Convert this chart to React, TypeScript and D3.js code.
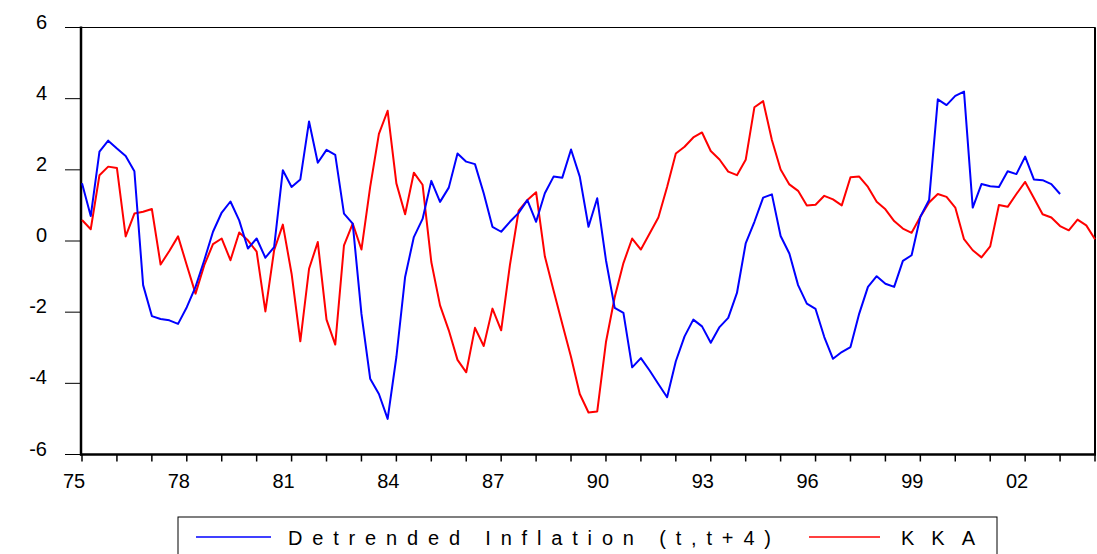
import React from "react";
import * as d3 from "d3";

const START_YEAR = 1975;
const yTicks = [-6, -4, -2, 0, 2, 4, 6];
const xLabels = ["75", "78", "81", "84", "87", "90", "93", "96", "99", "02"];
const seriesNames = ["Detrended Inflation (t,t+4)", "KKA"];

const kka = [
  0.59, 0.33, 1.85, 2.09, 2.05, 0.13, 0.77, 0.82, 0.90, -0.66,
  -0.28, 0.13, -0.68, -1.48, -0.68, -0.09, 0.07, -0.54, 0.24, 0.02,
  -0.30, -1.98, -0.26, 0.46, -0.92, -2.82, -0.78, -0.03, -2.21, -2.91,
  -0.12, 0.49, -0.24, 1.52, 3.01, 3.66, 1.62, 0.75, 1.92, 1.58,
  -0.59, -1.81, -2.51, -3.34, -3.69, -2.44, -2.95, -1.90, -2.51, -0.68,
  0.85, 1.15, 1.37, -0.43, -1.39, -2.33, -3.26, -4.30, -4.82, -4.79,
  -2.84, -1.58, -0.62, 0.07, -0.24, 0.21, 0.66, 1.52, 2.46, 2.65,
  2.91, 3.05, 2.53, 2.29, 1.95, 1.85, 2.28, 3.76, 3.93, 2.84,
  2.01, 1.59, 1.41, 1.00, 1.02, 1.27, 1.17, 1.00, 1.79, 1.81,
  1.52, 1.10, 0.89, 0.56, 0.35, 0.23, 0.68, 1.08, 1.32, 1.24,
  0.94, 0.05, -0.26, -0.46, -0.15, 1.01, 0.96, 1.32, 1.66, 1.21,
  0.75, 0.66, 0.42, 0.30, 0.60, 0.44, 0.05,
];

const inflation = [
  1.62, 0.70, 2.51, 2.82, 2.60, 2.39, 1.96, -1.24, -2.11, -2.19,
  -2.23, -2.33, -1.86, -1.29, -0.54, 0.26, 0.80, 1.11, 0.58, -0.21,
  0.07, -0.47, -0.17, 1.99, 1.52, 1.73, 3.36, 2.20, 2.56, 2.42,
  0.77, 0.49, -2.05, -3.87, -4.30, -5.00, -3.26, -1.01, 0.11, 0.62,
  1.69, 1.10, 1.50, 2.46, 2.23, 2.16, 1.34, 0.40, 0.26, 0.54,
  0.79, 1.15, 0.54, 1.34, 1.81, 1.78, 2.57, 1.81, 0.40, 1.20,
  -0.54, -1.88, -2.02, -3.55, -3.29, -3.64, -4.02, -4.39, -3.38, -2.68,
  -2.21, -2.40, -2.86, -2.42, -2.16, -1.46, -0.07, 0.54, 1.22, 1.31,
  0.14, -0.35, -1.24, -1.76, -1.91, -2.70, -3.31, -3.12, -2.98, -2.04,
  -1.29, -0.99, -1.20, -1.29, -0.56, -0.40, 0.68, 1.15, 3.98, 3.82,
  4.08, 4.20, 0.94, 1.60, 1.54, 1.52, 1.96, 1.88, 2.37, 1.73,
  1.71, 1.60, 1.32,
];

const W = 1097;
const H = 554;
const L = 81, R = 1095, T = 27.5, B = 454.5;
const FONT = "Liberation Sans, Arial, sans-serif";

export default function App() {
  const n = kka.length;
  const x = d3.scaleLinear().domain([0, n - 1]).range([L + 1, R]);
  const y = d3.scaleLinear().domain([-6, 6]).range([B, T]);
  const line = d3
    .line<number>()
    .x((_, i) => x(i))
    .y((d) => y(d));

  const yearTicks = d3.range(0, n, 4);
  const labelTicks = xLabels.map((lab, k) => ({ lab, i: k * 12 }));

  return (
    <svg
      width={W}
      height={H}
      style={{ position: "absolute", left: 0, top: 0, background: "#fff" }}
      fontFamily={FONT}
      data-start-year={START_YEAR}
    >
      <rect x={0} y={0} width={W} height={H} fill="#fff" />
      {/* frame */}
      <rect x={L} y={T} width={R - L} height={B - T} fill="none" stroke="#000" strokeWidth={1} />
      <line x1={R} x2={R} y1={T} y2={B} stroke="#000" strokeWidth={2} />
      <line x1={L} x2={L} y1={T - 1} y2={B + 1} stroke="#000" strokeWidth={2.5} />
      <line x1={L - 1} x2={R + 1} y1={B} y2={B} stroke="#000" strokeWidth={2.5} />

      {/* y ticks */}
      {yTicks.map((t) => (
        <g key={t}>
          <line x1={65} x2={L} y1={y(t)} y2={y(t)} stroke="#000" strokeWidth={1} />
          <text x={47} y={y(t) + 1} textAnchor="end" fontSize={20} fill="#000">
            {t}
          </text>
        </g>
      ))}

      {/* x ticks */}
      {yearTicks.map((i) => (
        <line key={i} x1={x(i)} x2={x(i)} y1={B} y2={B + 7} stroke="#000" strokeWidth={1.5} />
      ))}
      {labelTicks.map(({ lab, i }) => (
        <text key={lab} x={x(i) - 8} y={488} textAnchor="middle" fontSize={20} fill="#000">
          {lab}
        </text>
      ))}

      {/* series */}
      <path d={line(kka) || ""} fill="none" stroke="#ff0000" strokeWidth={2} strokeLinejoin="round" />
      <path d={line(inflation) || ""} fill="none" stroke="#0000ff" strokeWidth={2} strokeLinejoin="round" />

      {/* legend */}
      <rect x={178} y={517} width={819} height={40} fill="#fff" stroke="#000" strokeWidth={1} />
      <line x1={196} x2={271} y1={537} y2={537} stroke="#0000ff" strokeWidth={1.5} />
      <text x={288} y={545} fontSize={20} textLength={483} lengthAdjust="spacing" fill="#000">
        {seriesNames[0]}
      </text>
      <line x1={809} x2={880} y1={537} y2={537} stroke="#ff0000" strokeWidth={1.5} />
      <text x={901} y={545} fontSize={20} textLength={74} lengthAdjust="spacing" fill="#000">
        {seriesNames[1]}
      </text>
    </svg>
  );
}
